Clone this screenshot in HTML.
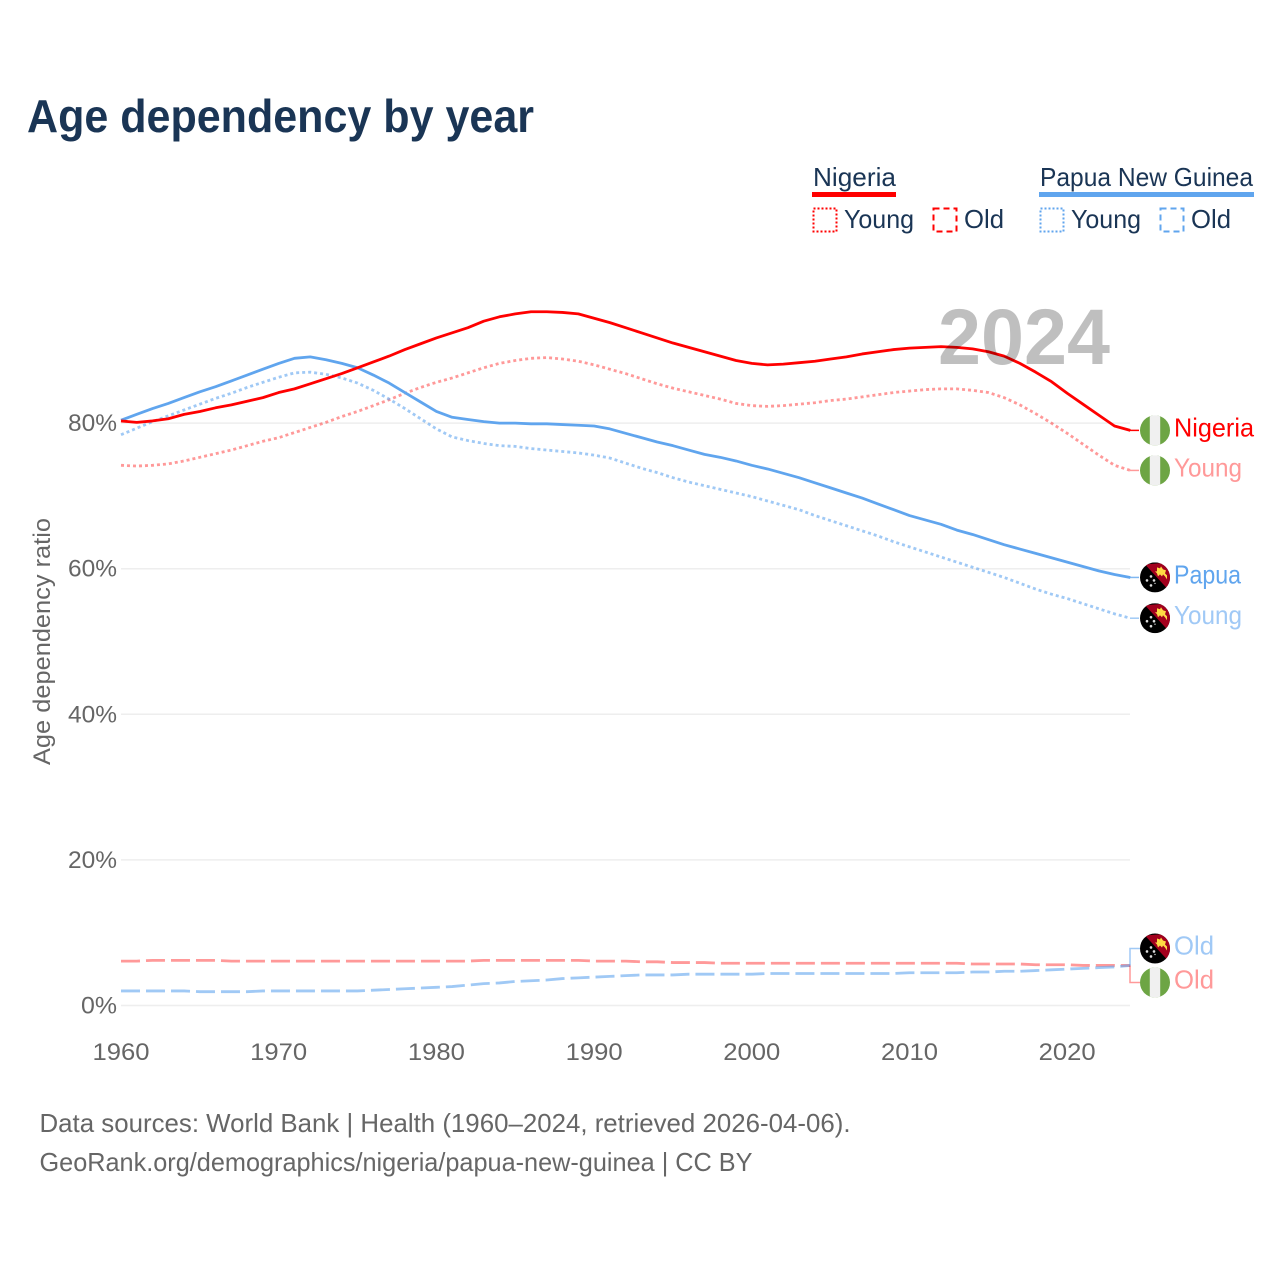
<!DOCTYPE html>
<html lang="en">
<head>
<meta charset="utf-8">
<title>Age dependency by year</title>
<style>
html,body{margin:0;padding:0;background:#fff;}
svg{display:block;font-family:"Liberation Sans",sans-serif;}
</style>
</head>
<body>
<svg id="chart" width="1280" height="1280" viewBox="0 0 1280 1280" xmlns="http://www.w3.org/2000/svg">
  <defs>
    <clipPath id="flag-clip"><circle cx="0" cy="0" r="15"/></clipPath>
    <symbol id="flag-ng" viewBox="-15 -15 30 30" overflow="visible">
      <g clip-path="url(#flag-clip)">
        <rect x="-15" y="-15" width="30" height="30" fill="#6da544"/>
        <rect x="-5.2" y="-15" width="10.4" height="30" fill="#f0f0f0"/>
      </g>
    </symbol>
    <symbol id="flag-pg" viewBox="-15 -15 30 30" overflow="visible">
      <g clip-path="url(#flag-clip)">
        <rect x="-15" y="-15" width="30" height="30" fill="#000"/>
        <polygon points="-10,-13 15,-15 15,14 12,11" fill="#a2001d"/>
        <polygon points="0,-6 2,-6 2,-10 5,-9 6,-11 8,-8 11,-7 10,-4 12,-2 12,2 10,-1 8,-3 7,-1 5,-3 3,-1 2,-4" fill="#ffda44"/>
        <circle cx="-4" cy="-1" r="1.3" fill="#ddd"/>
        <circle cx="-8" cy="3" r="1.3" fill="#ddd"/>
        <circle cx="-1" cy="3" r="1.3" fill="#ddd"/>
        <circle cx="-4" cy="8" r="1.3" fill="#ddd"/>
        <circle cx="0" cy="6" r="0.7" fill="#ddd"/>
      </g>
    </symbol>
  </defs>

  <text x="27" y="132" font-size="46" font-weight="700" fill="#1a3555" textLength="507" lengthAdjust="spacingAndGlyphs">Age dependency by year</text>

  <g>
    <text x="813" y="186" font-size="26" fill="#1a3555" textLength="83" lengthAdjust="spacingAndGlyphs">Nigeria</text>
    <rect x="812" y="192" width="84" height="5" fill="#ff0000"/>
    <rect x="813.5" y="208.5" width="23" height="23" fill="none" stroke="#ff0000" stroke-width="2" stroke-dasharray="2 2"/>
    <text x="844" y="228" font-size="26" fill="#1a3555" textLength="70" lengthAdjust="spacingAndGlyphs">Young</text>
    <rect x="933.5" y="208.5" width="23" height="23" fill="none" stroke="#ff0000" stroke-width="2" stroke-dasharray="6 4"/>
    <text x="964" y="228" font-size="26" fill="#1a3555" textLength="40" lengthAdjust="spacingAndGlyphs">Old</text>
    <text x="1040" y="186" font-size="26" fill="#1a3555" textLength="213" lengthAdjust="spacingAndGlyphs">Papua New Guinea</text>
    <rect x="1039" y="192" width="215" height="5" fill="#60a5ee"/>
    <rect x="1040.5" y="208.5" width="23" height="23" fill="none" stroke="#60a5ee" stroke-width="2" stroke-dasharray="2 2"/>
    <text x="1071" y="228" font-size="26" fill="#1a3555" textLength="70" lengthAdjust="spacingAndGlyphs">Young</text>
    <rect x="1160.5" y="208.5" width="23" height="23" fill="none" stroke="#60a5ee" stroke-width="2" stroke-dasharray="6 4"/>
    <text x="1191" y="228" font-size="26" fill="#1a3555" textLength="40" lengthAdjust="spacingAndGlyphs">Old</text>
  </g>

  <text transform="translate(50,765) rotate(-90)" font-size="24" fill="#666" textLength="247" lengthAdjust="spacingAndGlyphs">Age dependency ratio</text>

  <g id="grid"></g>
  <g id="yticks"></g>
  <g id="xticks"></g>
  <g id="series"></g>
  <g id="endlabels"></g>

  <text x="938" y="364" font-size="79" font-weight="700" fill="#000" fill-opacity="0.25" textLength="172" lengthAdjust="spacingAndGlyphs">2024</text>

  <text x="39.5" y="1132" font-size="26" fill="#666" textLength="811" lengthAdjust="spacingAndGlyphs">Data sources: World Bank | Health (1960–2024, retrieved 2026-04-06).</text>
  <text x="39.5" y="1171" font-size="26" fill="#666" textLength="713" lengthAdjust="spacingAndGlyphs">GeoRank.org/demographics/nigeria/papua-new-guinea | CC BY</text>
</svg>
<script>
const startYear = 1960;
const xTickYears = [1960, 1970, 1980, 1990, 2000, 2010, 2020];
const yTickValues = [0, 20, 40, 60, 80];

const nigeriaTotal = [80.3,80.1,80.3,80.6,81.2,81.6,82.1,82.5,83.0,83.5,84.2,84.7,85.4,86.1,86.8,87.6,88.4,89.2,90.1,90.9,91.7,92.4,93.1,94.0,94.6,95.0,95.3,95.3,95.2,95.0,94.4,93.8,93.1,92.4,91.7,91.0,90.4,89.8,89.2,88.6,88.2,88.0,88.1,88.3,88.5,88.8,89.1,89.5,89.8,90.1,90.3,90.4,90.5,90.4,90.2,89.8,89.2,88.2,87.0,85.7,84.1,82.6,81.1,79.6,79.0];
const nigeriaYoung = [74.2,74.1,74.2,74.4,74.8,75.3,75.8,76.3,76.9,77.5,78.0,78.7,79.4,80.1,80.9,81.6,82.4,83.2,84.1,84.9,85.6,86.2,86.9,87.6,88.2,88.6,88.9,89.0,88.8,88.5,88.0,87.4,86.8,86.1,85.4,84.8,84.3,83.8,83.3,82.7,82.4,82.3,82.4,82.6,82.8,83.1,83.3,83.6,83.9,84.2,84.4,84.6,84.7,84.7,84.5,84.2,83.5,82.5,81.3,80.0,78.6,77.1,75.6,74.2,73.5];
const nigeriaOld = [6.1,6.1,6.2,6.2,6.2,6.2,6.2,6.1,6.1,6.1,6.1,6.1,6.1,6.1,6.1,6.1,6.1,6.1,6.1,6.1,6.1,6.1,6.1,6.2,6.2,6.2,6.2,6.2,6.2,6.2,6.1,6.1,6.1,6.0,6.0,5.9,5.9,5.9,5.8,5.8,5.8,5.8,5.8,5.8,5.8,5.8,5.8,5.8,5.8,5.8,5.8,5.8,5.8,5.8,5.7,5.7,5.7,5.7,5.6,5.6,5.6,5.5,5.5,5.5,5.5];
const papuaTotal = [80.4,81.2,82.0,82.7,83.5,84.3,85.0,85.8,86.6,87.4,88.2,88.9,89.1,88.7,88.2,87.6,86.6,85.5,84.2,82.9,81.6,80.8,80.5,80.2,80.0,80.0,79.9,79.9,79.8,79.7,79.6,79.2,78.6,78.0,77.4,76.9,76.3,75.7,75.3,74.8,74.2,73.7,73.1,72.5,71.8,71.1,70.4,69.7,68.9,68.1,67.3,66.7,66.1,65.3,64.7,64.0,63.3,62.7,62.1,61.5,60.9,60.3,59.7,59.2,58.8];
const papuaYoung = [78.4,79.3,80.2,81.0,81.8,82.6,83.4,84.1,84.9,85.6,86.3,86.9,87.0,86.7,86.2,85.5,84.5,83.3,82.0,80.6,79.2,78.1,77.6,77.2,76.9,76.8,76.5,76.3,76.1,75.9,75.6,75.2,74.5,73.8,73.2,72.5,71.9,71.4,70.9,70.4,69.9,69.3,68.7,68.1,67.3,66.6,65.9,65.2,64.5,63.7,63.0,62.3,61.6,60.9,60.2,59.5,58.8,58.0,57.2,56.5,55.9,55.2,54.5,53.8,53.2];
const papuaOld = [2.0,2.0,2.0,2.0,2.0,1.9,1.9,1.9,1.9,2.0,2.0,2.0,2.0,2.0,2.0,2.0,2.1,2.2,2.3,2.4,2.5,2.6,2.8,3.0,3.1,3.3,3.4,3.5,3.7,3.8,3.9,4.0,4.1,4.2,4.2,4.2,4.3,4.3,4.3,4.3,4.3,4.4,4.4,4.4,4.4,4.4,4.4,4.4,4.4,4.4,4.5,4.5,4.5,4.5,4.6,4.6,4.7,4.7,4.8,4.9,5.0,5.1,5.2,5.3,5.5];

const svgNS = 'http://www.w3.org/2000/svg';
const plotLeft = 121;
const plotRight = 1130;
const pxPerYear = 15.77;
const zeroY = 1005.5;
const pxPerUnit = 7.28;

function xScale(year) {
  return plotLeft + (year - startYear) * pxPerYear;
}
function yScale(value) {
  return zeroY - value * pxPerUnit;
}
function make(tag, attrs, parent) {
  const el = document.createElementNS(svgNS, tag);
  for (const key in attrs) {
    el.setAttribute(key, attrs[key]);
  }
  parent.appendChild(el);
  return el;
}

const gridGroup = document.getElementById('grid');
const yTickGroup = document.getElementById('yticks');
const xTickGroup = document.getElementById('xticks');
const seriesGroup = document.getElementById('series');
const labelGroup = document.getElementById('endlabels');

yTickValues.forEach(function (value) {
  const gridLine = make('line', {x1: plotLeft, x2: plotRight, y1: yScale(value), y2: yScale(value), stroke: '#eeeeee', 'stroke-width': 1.5}, gridGroup);
  
  
  const tick = make('text', {x: 117, y: yScale(value) + 8, 'text-anchor': 'end', 'font-size': 24, fill: '#666', textLength: value === 0 ? 36 : 49, lengthAdjust: 'spacingAndGlyphs'}, yTickGroup);
  
  
  tick.textContent = value + '%';
});

xTickYears.forEach(function (year) {
  const tick = make('text', {x: xScale(year), y: 1060, 'text-anchor': 'middle', 'font-size': 24, fill: '#666', textLength: 57, lengthAdjust: 'spacingAndGlyphs'}, xTickGroup);
  
  
  tick.textContent = String(year);
});

function drawSeries(values, name, color, opacity, dash, width) {
  const endX = plotRight + 9;
  const lastY = yScale(values[values.length - 1]);
  const pts = values.map(function (v, i) {
    return xScale(startYear + i).toFixed(2) + ',' + yScale(v).toFixed(2);
  });
  const line = make('polyline', {points: pts.join(' '), fill: 'none', stroke: color, 'stroke-opacity': opacity, 'stroke-width': width, 'stroke-linejoin': 'round'}, seriesGroup);
  
  
  if (dash) {
    line.setAttribute('stroke-dasharray', dash);
  }
  return {lastX: plotRight, endX: endX, lastY: lastY, line: line};
}

const red = '#ff0000';
const blue = '#60a5ee';

drawSeries(nigeriaOld, 'line-nigeria-old', red, 0.4, '19 6', 2.8);
drawSeries(papuaOld, 'line-papua-old', blue, 0.6, '19 6', 2.8);
const endNigeriaYoung = drawSeries(nigeriaYoung, 'line-nigeria-young', red, 0.4, '3 3', 2.8);
const endPapuaYoung = drawSeries(papuaYoung, 'line-papua-young', blue, 0.6, '3 3', 2.8);
const endPapua = drawSeries(papuaTotal, 'line-papua-total', blue, 1, null, 2.8);
const endNigeria = drawSeries(nigeriaTotal, 'line-nigeria-total', red, 1, null, 2.8);

function stub(endInfo, color, opacity) {
  const seg = make('line', {x1: endInfo.lastX, x2: endInfo.endX, y1: endInfo.lastY, y2: endInfo.lastY, stroke: color, 'stroke-opacity': opacity, 'stroke-width': 1.5}, seriesGroup);
  
  
}
stub(endNigeria, red, 1);
stub(endNigeriaYoung, red, 0.4);
stub(endPapua, blue, 0.8);
stub(endPapuaYoung, blue, 0.6);

function endLabel(text, flagId, cy, baseline, color, width) {
  const flag = make('use', {href: '#' + flagId, x: 1140, y: cy - 15, width: 30, height: 30}, labelGroup);
  
  
  const label = make('text', {x: 1174, y: baseline, 'font-size': 26, fill: color, textLength: width, lengthAdjust: 'spacingAndGlyphs'}, labelGroup);
  
  
  label.textContent = text;
}

function lastOf(arr) {
  return yScale(arr[arr.length - 1]);
}

const ngY = lastOf(nigeriaTotal);
const ngYoungY = lastOf(nigeriaYoung);
const pgY = lastOf(papuaTotal);
const pgYoungY = lastOf(papuaYoung);
const oldMid = (lastOf(nigeriaOld) + lastOf(papuaOld)) / 2;
const pgOldY = oldMid - 17;
const ngOldY = oldMid + 17;

endLabel('Nigeria', 'flag-ng', ngY, ngY + 6, '#ff0000', 80);
endLabel('Young', 'flag-ng', ngYoungY, ngYoungY + 6, '#ff9999', 68);
endLabel('Papua', 'flag-pg', pgY, pgY + 6, '#60a5ee', 67);
endLabel('Young', 'flag-pg', pgYoungY, pgYoungY + 6, '#a0c9f6', 68);
endLabel('Old', 'flag-pg', pgOldY, pgOldY + 6, '#a0c9f6', 40);
endLabel('Old', 'flag-ng', ngOldY, ngOldY + 6, '#ff9999', 40);

const elbowBlue = make('polyline', {points: plotRight + ',' + lastOf(papuaOld) + ' ' + plotRight + ',' + pgOldY + ' 1140,' + pgOldY, fill: 'none', stroke: blue, 'stroke-opacity': 0.6, 'stroke-width': 1.5}, seriesGroup);


const elbowRed = make('polyline', {points: plotRight + ',' + lastOf(nigeriaOld) + ' ' + plotRight + ',' + ngOldY + ' 1140,' + ngOldY, fill: 'none', stroke: red, 'stroke-opacity': 0.4, 'stroke-width': 1.5}, seriesGroup);


</script>
</body>
</html>
